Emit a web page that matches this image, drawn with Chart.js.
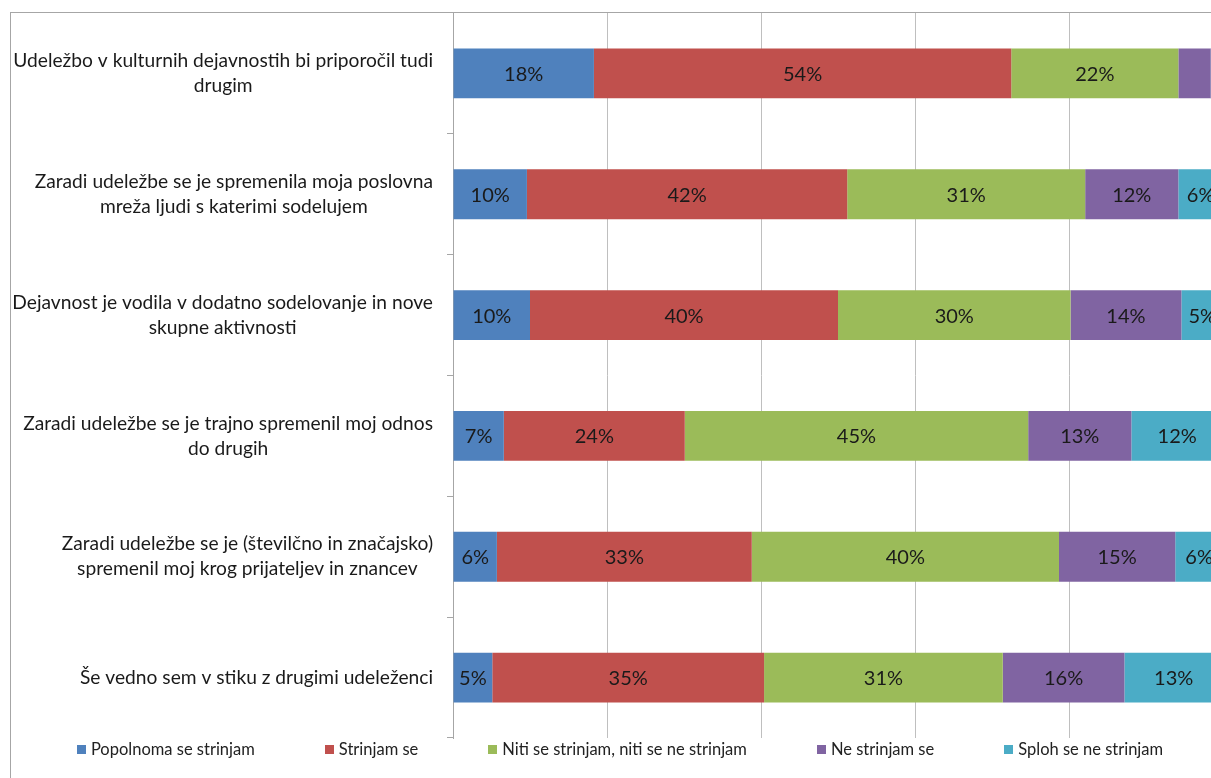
<!DOCTYPE html>
<html>
<head>
<meta charset="utf-8">
<script src="https://cdn.jsdelivr.net/npm/chart.js@4.4.0/dist/chart.umd.min.js"></script>
<style>
  html, body { margin: 0; padding: 0; background: #fff; overflow: hidden; }
  #wrap { position: relative; width: 1211px; height: 778px; overflow: hidden; }
  #box { position: absolute; left: 0; top: 0; width: 1240px; height: 778px; }
  #frame { position: absolute; left: 10px; top: 12px; width: 1400px; height: 900px;
           border-top: 1px solid #a6a6a6; border-left: 1px solid #a6a6a6; pointer-events: none; }
  #legend { position: absolute; left: 0; top: 737px; width: 1240px; height: 24px;
            display: flex; justify-content: center; align-items: center; gap: 70px;
            font: 16.5px Lato, sans-serif; color: #222; }
  #legend span.item { display: flex; align-items: center; }
  #legend i { display: inline-block; width: 9px; height: 9px; margin-right: 5px; }
</style>
</head>
<body>
<div id="wrap">
  <div id="box"><canvas id="chart" width="1240" height="778"></canvas></div>
  <div id="frame"></div>
  <div id="legend"></div>
</div>
<script>
// kategorije (vrstice grafa, prelomi kot na sliki)
const categories = [
  ['Udeležbo v kulturnih dejavnostih bi priporočil tudi', 'drugim'],
  ['Zaradi udeležbe se je spremenila moja poslovna', 'mreža ljudi s katerimi sodelujem'],
  ['Dejavnost je vodila v dodatno sodelovanje in nove', 'skupne aktivnosti'],
  ['Zaradi udeležbe se je trajno spremenil moj odnos', 'do drugih'],
  ['Zaradi udeležbe se je (številčno in značajsko)', 'spremenil moj krog prijateljev in znancev'],
  ['Še vedno sem v stiku z drugimi udeleženci']
];

// serije (deleži v %)
const seriesNames = [
  'Popolnoma se strinjam',
  'Strinjam se',
  'Niti se strinjam, niti se ne strinjam',
  'Ne strinjam se',
  'Sploh se ne strinjam'
];
const popolnoma = [18.3, 9.6, 10.0, 6.6, 5.7, 5.1];
const strinjam = [54.2, 41.6, 40.0, 23.5, 33.1, 35.3];
const niti = [21.7, 30.9, 30.2, 44.6, 39.9, 31.0];
const neStrinjam = [4.2, 12.1, 14.4, 13.4, 15.1, 15.8];
const sploh = [1.6, 5.8, 5.4, 11.9, 6.2, 12.8];

const colors = ['#4f81bd', '#c0504d', '#9bbb59', '#8064a2', '#4bacc6'];
const seriesValues = [popolnoma, strinjam, niti, neStrinjam, sploh];

const FONT = 'Lato, sans-serif';

// napisi vrednosti na sredini segmentov
const barLabels = {
  id: 'barLabels',
  afterDatasetsDraw(chart) {
    const ctx = chart.ctx;
    ctx.save();
    ctx.font = '20px ' + FONT;
    ctx.fillStyle = '#1a1a1a';
    ctx.textAlign = 'center';
    ctx.textBaseline = 'middle';
    chart.data.datasets.forEach((ds, di) => {
      chart.getDatasetMeta(di).data.forEach((el, i) => {
        const txt = Math.round(ds.data[i]) + '%';
        const w = Math.abs(el.x - el.base);
        if (w < ctx.measureText(txt).width + 10) return;
        ctx.fillText(txt, (el.x + el.base) / 2, el.y + 1);
      });
    });
    ctx.restore();
  }
};

// oznake kategorij: vrstice sredinsko, blok poravnan desno
const catLabels = {
  id: 'catLabels',
  afterDraw(chart) {
    const ctx = chart.ctx;
    const yScale = chart.scales.y;
    const right = yScale.right - 20;
    ctx.save();
    ctx.font = '19.2px ' + FONT;
    ctx.fillStyle = '#1a1a1a';
    ctx.textAlign = 'center';
    ctx.textBaseline = 'middle';
    categories.forEach((lines, i) => {
      const y = yScale.getPixelForTick(i);
      const bw = Math.max(...lines.map(l => ctx.measureText(l).width));
      const cx = right - bw / 2;
      const lh = 25;
      lines.forEach((l, k) => {
        ctx.fillText(l, cx, y + (k - (lines.length - 1) / 2) * lh);
      });
    });
    ctx.restore();
  }
};

new Chart(document.getElementById('chart'), {
  type: 'bar',
  data: {
    labels: categories,
    datasets: seriesNames.map((name, i) => ({
      label: name,
      data: seriesValues[i],
      backgroundColor: colors[i],
      borderWidth: 0,
      barPercentage: 0.413,
      categoryPercentage: 1
    }))
  },
  options: {
    indexAxis: 'y',
    responsive: false,
    animation: false,
    layout: { padding: { left: 447, right: 17, top: 13, bottom: 40 } },
    plugins: {
      legend: { display: false },
      tooltip: { enabled: false }
    },
    scales: {
      x: {
        stacked: true,
        min: 0,
        max: 100,
        ticks: { display: false, stepSize: 20 },
        grid: { color: '#bfbfbf', lineWidth: 1, drawTicks: false },
        border: { display: false }
      },
      y: {
        stacked: true,
        ticks: { display: false },
        grid: { drawOnChartArea: false, drawTicks: true, tickLength: 6, color: '#a6a6a6' },
        border: { display: true, color: '#a6a6a6' }
      }
    }
  },
  plugins: [barLabels, catLabels]
});

// legenda v HTML
const legend = document.getElementById('legend');
seriesNames.forEach((name, i) => {
  const item = document.createElement('span');
  item.className = 'item';
  const sw = document.createElement('i');
  sw.style.background = colors[i];
  item.appendChild(sw);
  item.appendChild(document.createTextNode(name));
  legend.appendChild(item);
});
</script>
</body>
</html>
